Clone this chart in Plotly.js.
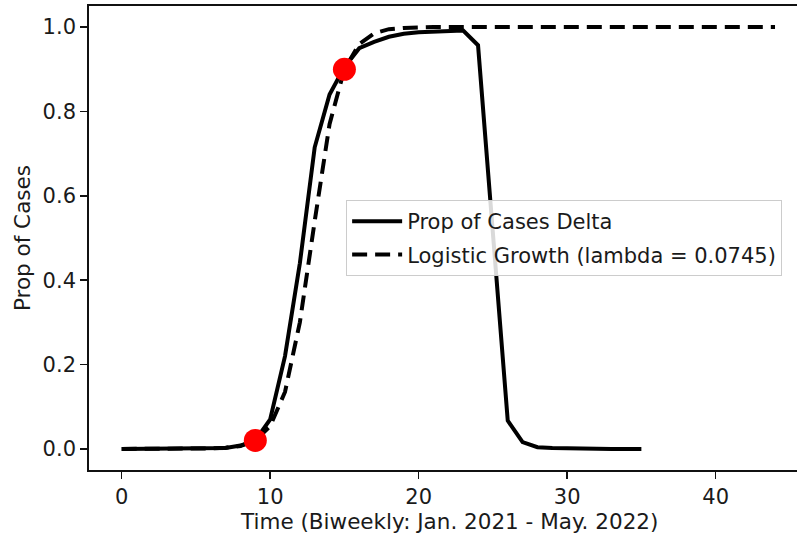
<!DOCTYPE html>
<html>
<head>
<meta charset="utf-8">
<script src="https://cdn.plot.ly/plotly-3.0.1.min.js"></script>
<style>html,body{margin:0;padding:0;background:#fff;}#chart{width:797px;height:542px;}</style>
</head>
<body>
<div id="chart"></div>
<script>
// Biweekly time index
const deltaTime = [0,1,2,3,4,5,6,7,8,9,10,11,12,13,14,15,16,17,18,19,20,21,22,23,24,25,26,27,28,29,30,31,32,33,34,35];
const deltaProp = [0,0,0,0,0,0,0,0.002,0.008,0.02,0.07,0.22,0.44,0.715,0.84,0.905,0.95,0.965,0.977,0.984,0.988,0.99,0.99,0.992,0.957,0.5,0.067,0.016,0.004,0.002,0.001,0.001,0,0,0,0];
const logisticTime = [0,1,2,3,4,5,6,7,8,9,10,11,12,13,14,15,16,17,18,19,20,21,22,23,24,25,26,27,28,29,30,31,32,33,34,35,36,37,38,39,40,41,42,43,44];
const logisticProp = [0,0,0,0,0,0.001,0.001,0.003,0.007,0.02,0.054,0.135,0.30,0.54,0.77,0.90,0.96,0.985,0.995,0.998,1,1,1,1,1,1,1,1,1,1,1,1,1,1,1,1,1,1,1,1,1,1,1,1,1];
const markerTime = [9, 15];
const markerProp = [0.02, 0.9];
const seriesNames = ['Prop of Cases Delta', 'Logistic Growth (lambda = 0.0745)'];
const xTitle = 'Time (Biweekly: Jan. 2021 - May. 2022)';
const yTitle = 'Prop of Cases';

const FONT = 'DejaVu Sans, sans-serif';
const INK = '#1a1a1a';
const FS = 21;

const traces = [
  {x: deltaTime, y: deltaProp, type: 'scatter', mode: 'lines', name: seriesNames[0], legendgroup: 'a',
   line: {color: '#000', width: 4}},
  {x: logisticTime, y: logisticProp, type: 'scatter', mode: 'lines', name: seriesNames[1], legendgroup: 'b',
   line: {color: '#000', width: 4, dash: '15px,8px'}},
  {x: markerTime, y: markerProp, type: 'scatter', mode: 'markers', showlegend: false,
   marker: {color: '#ff0000', size: 23}}
];

const layout = {
  width: 797, height: 542,
  margin: {l: 89, r: 0, t: 6, b: 72, pad: 0},
  paper_bgcolor: '#fff', plot_bgcolor: '#fff',
  font: {family: FONT, size: FS, color: INK},
  showlegend: true,
  legend: {x: 0.979, xanchor: 'right', y: 0.5, yanchor: 'middle',
           traceorder: 'grouped', tracegroupgap: 3, itemwidth: 50,
           bgcolor: 'rgba(255,255,255,0.85)', bordercolor: '#cccccc', borderwidth: 1,
           font: {family: FONT, size: FS, color: INK}},
  xaxis: {range: [-2.2, 45.48], dtick: 10, tick0: 0, showgrid: false, zeroline: false,
          showline: true, mirror: true, linecolor: '#111', linewidth: 1.8,
          ticks: 'outside', ticklen: 7, tickwidth: 1.5, tickcolor: '#111',
          tickfont: {family: FONT, size: FS, color: INK}},
  yaxis: {range: [-0.05, 1.05], dtick: 0.2, tick0: 0, tickformat: '.1f', showgrid: false, zeroline: false,
          showline: true, mirror: false, linecolor: '#111', linewidth: 1.8,
          ticks: 'outside', ticklen: 7, tickwidth: 1.5, tickcolor: '#111',
          tickfont: {family: FONT, size: FS, color: INK}},
  annotations: [
    {text: xTitle, xref: 'paper', yref: 'paper', x: 0.508, y: -0.112, xanchor: 'center', yanchor: 'middle',
     showarrow: false, font: {family: FONT, size: 21.5, color: INK}},
    {text: yTitle, xref: 'paper', yref: 'paper', x: -0.0946, y: 0.5, xanchor: 'center', yanchor: 'middle',
     textangle: -90, showarrow: false, font: {family: FONT, size: 21.5, color: INK}}
  ]
};

Plotly.newPlot('chart', traces, layout, {displayModeBar: false, staticPlot: true});
</script>
</body>
</html>
